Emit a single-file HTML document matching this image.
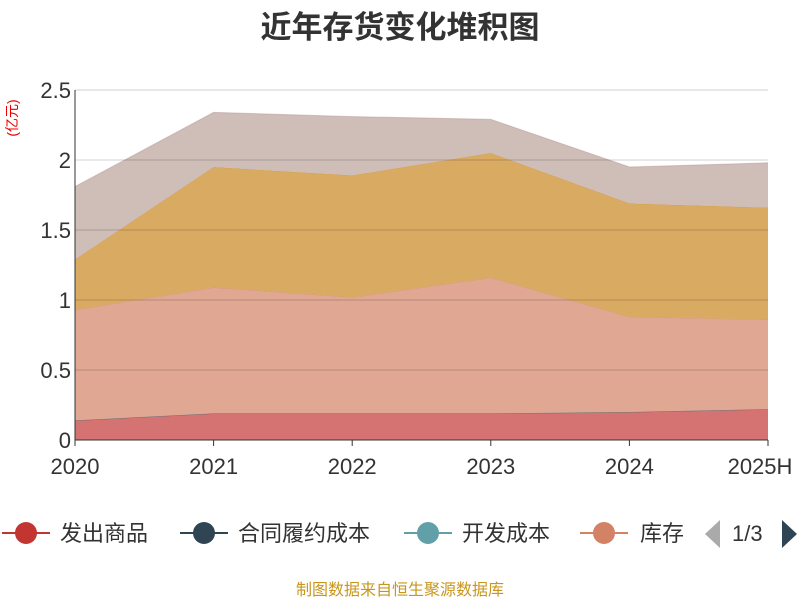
<!DOCTYPE html>
<html><head><meta charset="utf-8"><style>
body{margin:0;background:#fff;font-family:"Liberation Sans","Noto Sans CJK SC",sans-serif}
svg text{font-family:"Liberation Sans","Noto Sans CJK SC",sans-serif}
</style></head><body>
<svg id="c" width="800" height="600">
<text x="400" y="38" text-anchor="middle" font-size="31" font-weight="bold" fill="#333">近年存货变化堆积图</text>
<text transform="translate(17,118) rotate(-90)" text-anchor="middle" font-size="14" fill="#e00">(亿元)</text>
<g id="areas"></g><g id="grid"></g><g id="axes"></g>
<g font-size="22" fill="#333">
<g><line x1="2" y1="533" x2="50" y2="533" stroke="#c23531" stroke-width="2"/><circle cx="26" cy="533" r="11" fill="#c23531"/><text x="60" y="541">发出商品</text></g>
<g><line x1="180" y1="533" x2="228" y2="533" stroke="#2f4554" stroke-width="2"/><circle cx="204" cy="533" r="11" fill="#2f4554"/><text x="238" y="541">合同履约成本</text></g>
<g><line x1="404" y1="533" x2="452" y2="533" stroke="#61a0a8" stroke-width="2"/><circle cx="428" cy="533" r="11" fill="#61a0a8"/><text x="462" y="541">开发成本</text></g>
<g><line x1="580" y1="533" x2="628" y2="533" stroke="#d48265" stroke-width="2"/><circle cx="604" cy="533" r="11" fill="#d48265"/><text x="640" y="541">库存</text></g>
<polygon points="720,520 720,548 705,534" fill="#aaa"/>
<text x="732" y="541">1/3</text>
<polygon points="782,520 782,548 797,534" fill="#2f4554"/>
</g>
<text x="400" y="595" text-anchor="middle" font-size="16" fill="#c8961e">制图数据来自恒生聚源数据库</text>
</svg>
<script>
const categories=["2020","2021","2022","2023","2024","2025H"];
const fachu=[0.14,0.19,0.19,0.19,0.20,0.22];
const hetong=[0,0,0,0,0,0];
const kaifa=[0,0,0,0,0,0];
const kucun=[0.79,0.90,0.83,0.97,0.68,0.64];
const series5=[0.36,0.86,0.87,0.89,0.81,0.80];
const series6=[0.52,0.39,0.42,0.24,0.26,0.32];
const yTicks=[0,0.5,1,1.5,2,2.5];
const yTickLabels=["0","0.5","1","1.5","2","2.5"];
const NS="http://www.w3.org/2000/svg";
const x0=75,x1=768,yb=440,yt=90,ymax=2.5;
const xs=i=>x0+i*(x1-x0)/(categories.length-1);
const ys=v=>yb-v/ymax*(yb-yt);
function mk(tag,attrs,parent){const e=document.createElementNS(NS,tag);for(const k in attrs)e.setAttribute(k,attrs[k]);parent.appendChild(e);return e;}
const grid=document.getElementById('grid'),axes=document.getElementById('axes'),areas=document.getElementById('areas');
yTicks.forEach((t,i)=>{
  if(t>0){const l=mk('line',{x1:x0,x2:x1,y1:ys(t),y2:ys(t),stroke:'rgba(0,0,0,0.18)'},grid);
  
  }
  const tx=mk('text',{x:x0-4,y:ys(t)+8,'text-anchor':'end','font-size':'22',fill:'#333'},axes);
  tx.textContent=yTickLabels[i];
  
  
});
const stacks=[[fachu,'#d57373','#c23531'],[hetong,'#6b7c87','#2f4554'],[kaifa,'#94bcc1','#61a0a8'],[kucun,'#e0a893','#d48265'],[series5,'#d9aa62','#c99a4a'],[series6,'#cfbdb8','#b59a94']];
const names=['area-fachu','area-hetong','area-kaifa','area-kucun','area-series5','area-series6'];
let base=categories.map(()=>0);
stacks.forEach(([vals,fill,stroke],si)=>{
  const top=base.map((b,i)=>b+vals[i]);
  let d='';
  top.forEach((v,i)=>d+=(i?'L':'M')+xs(i)+','+ys(v));
  for(let i=base.length-1;i>=0;i--)d+='L'+xs(i)+','+ys(base[i]);
  d+='Z';
  const p=mk('path',{d:d,fill:fill,stroke:'none'},areas);
  
  
  let ld='';top.forEach((v,i)=>ld+=(i?'L':'M')+xs(i)+','+ys(v));
  const l=mk('path',{d:ld,fill:'none',stroke:stroke,'stroke-opacity':0.5,'stroke-width':1},areas);
  
  
  base=top;
});
mk('line',{x1:x0,x2:x0,y1:yt,y2:yb,stroke:'#333'},axes);
const xa=mk('line',{x1:x0,x2:x1,y1:yb,y2:yb,stroke:'#333'},axes);


categories.forEach((c,i)=>{
  mk('line',{x1:xs(i),x2:xs(i),y1:yb,y2:yb+6,stroke:'#333'},axes);
  const t=mk('text',{x:i===categories.length-1?xs(i)-8:xs(i),y:yb+34,'text-anchor':'middle','font-size':'22',fill:'#333'},axes);
  t.textContent=c;
  
  
});
</script>
</body></html>
